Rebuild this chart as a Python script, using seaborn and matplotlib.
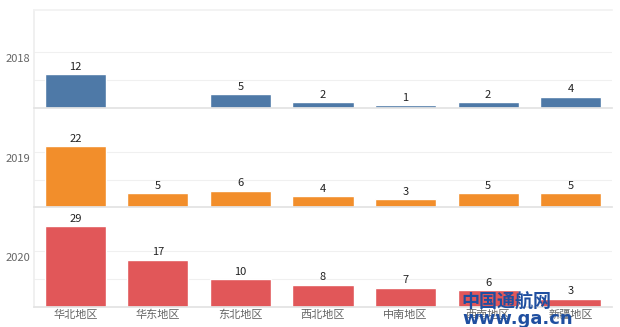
import matplotlib
matplotlib.use("Agg")
import matplotlib.pyplot as plt
import seaborn as sns
import pandas as pd

sns.set_theme(style="white")
plt.rcParams['font.family'] = ['Noto Sans CJK SC', 'DejaVu Sans']

regions = ["华北地区", "华东地区", "东北地区", "西北地区", "中南地区", "西南地区", "新疆地区"]
years = ["2018", "2019", "2020"]
values_2018 = [12, 0, 5, 2, 1, 2, 4]
values_2019 = [22, 5, 6, 4, 3, 5, 5]
values_2020 = [29, 17, 10, 8, 7, 6, 3]
colors = ["#4E79A7", "#F28E2B", "#E15759"]

series = [values_2018, values_2019, values_2020]

fig, axes = plt.subplots(3, 1, figsize=(6.2, 3.27), dpi=100, sharex=True)
fig.subplots_adjust(left=0.055, right=0.987, top=0.969, bottom=0.061, hspace=0.02)

grid_c = "#F0F0F0"
for ax, yr, vals, col in zip(axes, years, series, colors):
    df = pd.DataFrame({"region": regions, "value": vals})
    sns.barplot(data=df, x="region", y="value", ax=ax, color=col, width=0.74,
                saturation=1, order=regions)
    ax.set_ylim(0, 35)
    ax.set_yticks([10, 20])
    ax.set_yticklabels([])
    ax.tick_params(axis="y", length=0)
    ax.grid(axis="y", color=grid_c, linewidth=0.8)
    ax.set_axisbelow(True)
    ax.set_ylabel("")
    ax.set_xlabel("")
    for side in ["top", "right"]:
        ax.spines[side].set_visible(False)
    ax.spines["left"].set_color("#EEEEEE")
    ax.spines["bottom"].set_color("#E3E3E3")
    bb = ax.get_position()
    fig.text(0.029, (bb.y0 + bb.y1) / 2, yr, ha="center", va="center",
             fontsize=8, color="#666666")
    for i, v in enumerate(vals):
        if v > 0:
            ax.text(i, v + 0.8, str(v), ha="center", va="bottom", fontsize=8, color="#222222")

axes[0].spines["top"].set_visible(True)
axes[0].spines["top"].set_color("#F2F2F2")
axes[-1].tick_params(axis="x", length=0, labelsize=8, labelcolor="#666666", pad=2)
for ax in axes[:-1]:
    ax.tick_params(axis="x", length=0)

fig.text(0.745, 0.075, "中国通航网", fontsize=13, fontweight="bold", color="#1F4FA0", ha="left", va="center")
fig.text(0.745, 0.025, "www.ga.cn", fontsize=13, fontweight="bold", color="#1F4FA0", ha="left", va="center",
         family=["DejaVu Sans"])

fig.savefig("out.png", dpi=100)
